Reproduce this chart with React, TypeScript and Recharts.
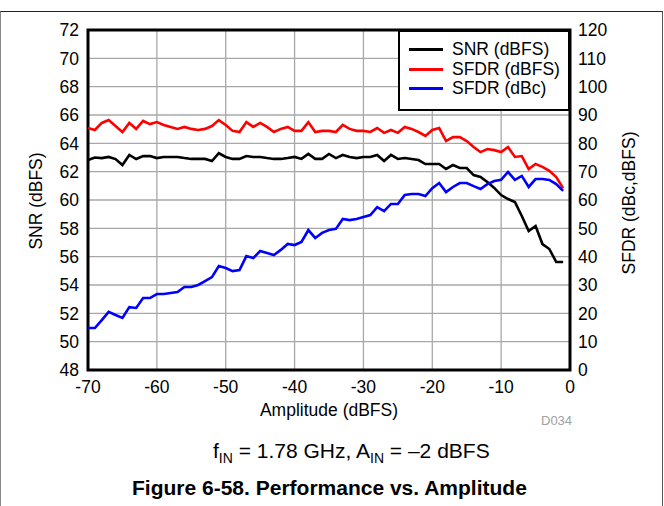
import React from 'react';
import {
  LineChart, Line, XAxis, YAxis, CartesianGrid, Legend, ReferenceArea
} from 'recharts';

// amplitude steps (dBFS)
const amplitude = [
  -70, -69, -68, -67, -66, -65, -64, -63, -62, -61,
  -60, -59, -58, -57, -56, -55, -54, -53, -52, -51,
  -50, -49, -48, -47, -46, -45, -44, -43, -42, -41,
  -40, -39, -38, -37, -36, -35, -34, -33, -32, -31,
  -30, -29, -28, -27, -26, -25, -24, -23, -22, -21,
  -20, -19, -18, -17, -16, -15, -14, -13, -12, -11,
  -10, -9, -8, -7, -6, -5, -4, -3, -2, -1,
];

const snrDbfs = [
  62.82, 63.0, 62.96, 63.04, 62.89, 62.47, 63.18, 62.89, 63.1, 63.1,
  62.96, 63.04, 63.04, 63.04, 62.96, 62.9, 62.9, 62.9, 62.75, 63.3,
  63.04, 62.9, 62.9, 63.1, 63.04, 63.04, 62.96, 62.9, 62.9, 62.96,
  63.04, 62.9, 63.25, 62.9, 62.9, 63.25, 62.96, 63.18, 63.04, 62.96,
  63.04, 63.04, 63.18, 62.75, 63.18, 62.9, 62.96, 62.9, 62.82, 62.54,
  62.54, 62.54, 62.19, 62.47, 62.26, 62.26, 61.76, 61.62, 61.27, 60.85,
  60.35, 60.07, 59.86, 58.87, 57.81, 58.16, 56.89, 56.54, 55.62, 55.62,
];

const sfdrDbfs = [
  85.4, 84.7, 87.2, 88.2, 86.1, 84.0, 87.2, 85.1, 87.9, 86.8,
  87.5, 86.5, 85.8, 85.1, 85.8, 85.1, 84.7, 85.1, 86.1, 88.2,
  86.5, 84.4, 84.0, 87.5, 85.8, 87.2, 85.8, 84.0, 85.1, 85.8,
  84.4, 84.4, 87.5, 84.0, 84.4, 84.4, 84.0, 86.5, 85.1, 84.4,
  84.4, 84.0, 85.4, 83.7, 84.7, 83.7, 85.8, 85.1, 84.0, 82.6,
  84.7, 85.4, 80.8, 82.2, 82.2, 80.8, 78.7, 76.9, 78.0, 77.6,
  76.9, 78.7, 75.2, 75.5, 70.9, 72.7, 71.7, 70.3, 68.1, 64.2,
];

const sfdrDbc = [
  14.8, 14.8, 17.6, 20.5, 19.4, 18.4, 22.2, 21.9, 25.4, 25.4,
  26.8, 26.8, 27.2, 27.5, 29.3, 29.3, 30.0, 31.4, 32.8, 36.7,
  36.0, 34.9, 35.3, 40.2, 39.5, 42.0, 41.3, 40.6, 42.4, 44.5,
  44.1, 45.2, 49.4, 46.6, 48.4, 49.4, 49.8, 53.3, 52.9, 53.3,
  54.0, 54.7, 57.5, 56.1, 58.6, 58.6, 61.8, 62.1, 62.1, 61.4,
  64.2, 66.0, 62.8, 64.6, 66.0, 66.0, 64.9, 63.9, 65.6, 66.7,
  67.1, 69.9, 67.1, 68.5, 64.6, 67.4, 67.4, 67.1, 65.6, 63.2,
];

const xTicks = [-70, -60, -50, -40, -30, -20, -10, 0];
const leftTicks = [48, 50, 52, 54, 56, 58, 60, 62, 64, 66, 68, 70, 72];
const rightTicks = [0, 10, 20, 30, 40, 50, 60, 70, 80, 90, 100, 110, 120];

const series = [
  { key: 'snr', name: 'SNR (dBFS)', color: '#000000', axis: 'left' },
  { key: 'sfdrFs', name: 'SFDR (dBFS)', color: '#ff0000', axis: 'right' },
  { key: 'sfdrC', name: 'SFDR (dBc)', color: '#0000ff', axis: 'right' },
];

const data = amplitude.map((a, i) => ({
  amp: a,
  snr: snrDbfs[i],
  sfdrFs: sfdrDbfs[i],
  sfdrC: sfdrDbc[i],
}));

const FONT = '"Liberation Sans", Arial, Helvetica, sans-serif';
const tickStyle = { fill: '#000', fontSize: 17.5, fontFamily: FONT };

const LegendBox = () => (
  <div style={{
    width: 172, height: 81, boxSizing: 'border-box', border: '2.5px solid #000',
    background: '#fff', paddingTop: 8, fontFamily: FONT, fontSize: 17.5,
  }}>
    {series.map((s) => (
      <div key={s.key} style={{ display: 'flex', alignItems: 'center', height: 19.5 }}>
        <div style={{ width: 34, height: 3, background: s.color, marginLeft: 9, marginRight: 9 }} />
        <span style={{ color: '#000', lineHeight: '19px' }}>{s.name}</span>
      </div>
    ))}
  </div>
);

export default function App() {
  return (
    <div style={{
      position: 'absolute', left: 0, top: 0, width: 664, height: 506,
      background: '#fff', fontFamily: FONT, overflow: 'hidden',
    }}>
      {/* frame of the page */}
      <div style={{
        position: 'absolute', left: 0, top: 11, width: 663, height: 500, boxSizing: 'border-box',
        borderTop: '1px solid #222', borderLeft: '1px solid #888', borderRight: '1px solid #555',
      }} />

      <div style={{ position: 'absolute', left: 0, top: 0 }}>
        <LineChart width={664} height={420} data={data} margin={{ top: 30, right: 0, bottom: 0, left: 0 }}>
          <CartesianGrid yAxisId="left" stroke="#a8a8a8" strokeWidth={1.3} />
          <XAxis
            dataKey="amp" type="number" domain={[-70, 0]} ticks={xTicks}
            tickLine={false} axisLine={false} tickSize={0} tickMargin={11}
            height={50} tick={tickStyle} interval={0}
          />
          <YAxis
            yAxisId="left" domain={[48, 72]} ticks={leftTicks} width={88}
            tickLine={false} axisLine={false} tickSize={0} tickMargin={9}
            tick={tickStyle} interval={0}
          />
          <YAxis
            yAxisId="right" orientation="right" domain={[0, 120]} ticks={rightTicks} width={94}
            tickLine={false} axisLine={false} tickSize={0} tickMargin={8}
            tick={{ ...tickStyle, textAnchor: 'start' }} interval={0}
          />
          {series.map((s) => (
            <Line
              key={s.key} yAxisId={s.axis} dataKey={s.key} name={s.name}
              type="linear" stroke={s.color} strokeWidth={2.6} dot={false}
              isAnimationActive={false}
            />
          ))}
          <ReferenceArea
            yAxisId="left" x1={-70} x2={0} y1={48} y2={72}
            fill="none" stroke="#000" strokeWidth={3} ifOverflow="visible"
          />
          <Legend
            layout="vertical" align="center" verticalAlign="middle"
            wrapperStyle={{ left: 398, top: 30, width: 172, height: 81 }}
            content={() => <LegendBox />}
          />
        </LineChart>
      </div>

      {/* axis titles */}
      <div style={{
        position: 'absolute', left: 37, top: 201, transform: 'translate(-50%, -50%) rotate(-90deg)',
        fontSize: 17.5, whiteSpace: 'nowrap', lineHeight: 1,
      }}>SNR (dBFS)</div>
      <div style={{
        position: 'absolute', left: 630, top: 203, transform: 'translate(-50%, -50%) rotate(-90deg)',
        fontSize: 17.5, whiteSpace: 'nowrap', lineHeight: 1,
      }}>SFDR (dBc,dBFS)</div>
      <div style={{
        position: 'absolute', left: 329, top: 402, transform: 'translateX(-50%)',
        fontSize: 17.5, whiteSpace: 'nowrap', lineHeight: 1,
      }}>Amplitude (dBFS)</div>
      <div style={{
        position: 'absolute', left: 541, top: 414, fontSize: 13, color: '#a0a0a0', lineHeight: 1,
      }}>D034</div>

      {/* conditions + caption */}
      <div style={{
        position: 'absolute', left: 213, top: 440, fontSize: 21, whiteSpace: 'nowrap', lineHeight: 1,
      }}>
        f<sub style={{ fontSize: 14, verticalAlign: -5, lineHeight: 0 }}>IN</sub> = 1.78 GHz, A<sub style={{ fontSize: 14, verticalAlign: -5, lineHeight: 0 }}>IN</sub> = –2 dBFS
      </div>
      <div style={{
        position: 'absolute', left: 132, top: 477, fontSize: 21, fontWeight: 'bold',
        whiteSpace: 'nowrap', lineHeight: 1,
      }}>Figure 6-58. Performance vs. Amplitude</div>
    </div>
  );
}
